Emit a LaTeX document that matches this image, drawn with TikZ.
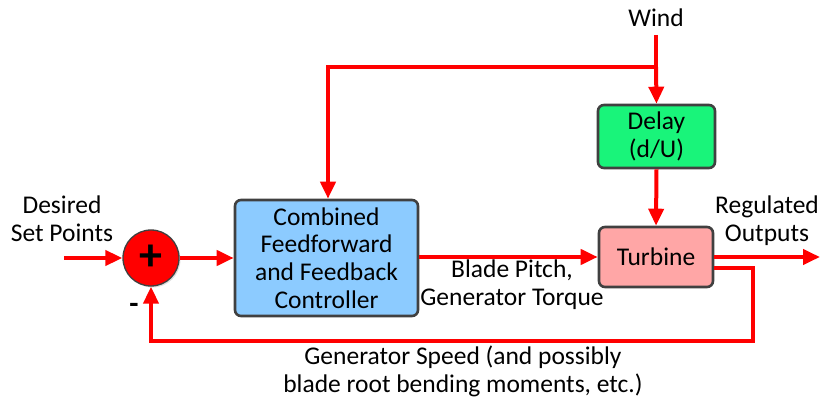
\documentclass[tikz,border=0pt]{standalone}
\usepackage{fontspec}
\setmainfont{Carlito}
\usetikzlibrary{arrows.meta,shadows}
\definecolor{sigred}{HTML}{FF0000}
\definecolor{edgegray}{HTML}{404040}
\definecolor{ctrlblue}{HTML}{8CCBFF}
\definecolor{delaygreen}{HTML}{19F47A}
\definecolor{turbpink}{HTML}{FFA6A6}
\tikzset{
  sig/.style={draw=sigred, line width=4pt, -{Triangle[length=17pt,width=15pt]}},
  wire/.style={draw=sigred, line width=4pt},
  block/.style={draw=edgegray, line width=2.6pt, rounded corners=6pt, align=center,
    font=\fontsize{25.5}{27.8}\selectfont, inner sep=0pt},
  lbl/.style={align=center, font=\fontsize{25.5}{27.8}\selectfont, inner sep=0pt},
}
\begin{document}
\begin{tikzpicture}[x=1pt,y=-1pt]
\useasboundingbox (0,0) rectangle (820,401);
% blocks
\node[block, fill=ctrlblue, minimum width=183pt, minimum height=116pt] (ctrl) at (326.5,258) {Combined\\Feedforward\\and Feedback\\Controller};
\node[block, fill=delaygreen, minimum width=117pt, minimum height=63pt] (delay) at (656.5,136.5) {Delay\\(d/U)};
\node[block, fill=turbpink, minimum width=114pt, minimum height=60pt] (turb) at (656,257) {Turbine};
% summing junction
\node[circle, draw=edgegray, line width=1.3pt, fill=sigred, minimum size=56pt, inner sep=0pt,
  drop shadow={shadow xshift=1.5pt, shadow yshift=-1.5pt, opacity=0.25}] (sum) at (151,258)
  {\fontsize{46}{46}\selectfont\bfseries +};
% end points and corners
\coordinate (in) at (64,258);
\coordinate (out) at (820,257);
\coordinate (windtop) at (656,35);
\coordinate (split) at (656,67);
\coordinate (ffcorner) at (328,67);
\coordinate (fbright) at (753,268);
\coordinate (fbcorner) at (753,341);
\coordinate (fbleft) at (151,341);
% texts
\node[lbl] (windlbl) at (656,18) {Wind};
\node[lbl] (setlbl) at (62,219) {Desired\\Set Points};
\node[lbl] (outlbl) at (767,221) {Regulated\\Outputs};
\node[lbl] (cmdlbl) at (512,285) {Blade Pitch,\\Generator Torque};
\node[lbl] (fblbl) at (463,371) {Generator Speed (and possibly\\blade root bending moments, etc.)};
\node[font=\fontsize{30}{30}\selectfont\bfseries, inner sep=0pt] (minus) at (134,308) {-};
% connectors
\draw[sig] (in) -- (sum);
\draw[sig] (sum) -- (ctrl.west |- sum);
\draw[sig] (ctrl.east |- turb) -- (turb.west);
\draw[sig] (turb.east) -- (out);
\draw[wire] (windtop) -- (split);
\draw[sig] (split) -- (delay.north);
\draw[sig, line join=miter] (split) -- (ffcorner) -- (ctrl.north -| ffcorner);
\draw[sig] (delay.south) -- (turb.north);
\draw[sig, line join=miter] (turb.east |- fbright) -- (fbright) -- (fbcorner) -- (fbleft) -- (sum.south);
\end{tikzpicture}
\end{document}
